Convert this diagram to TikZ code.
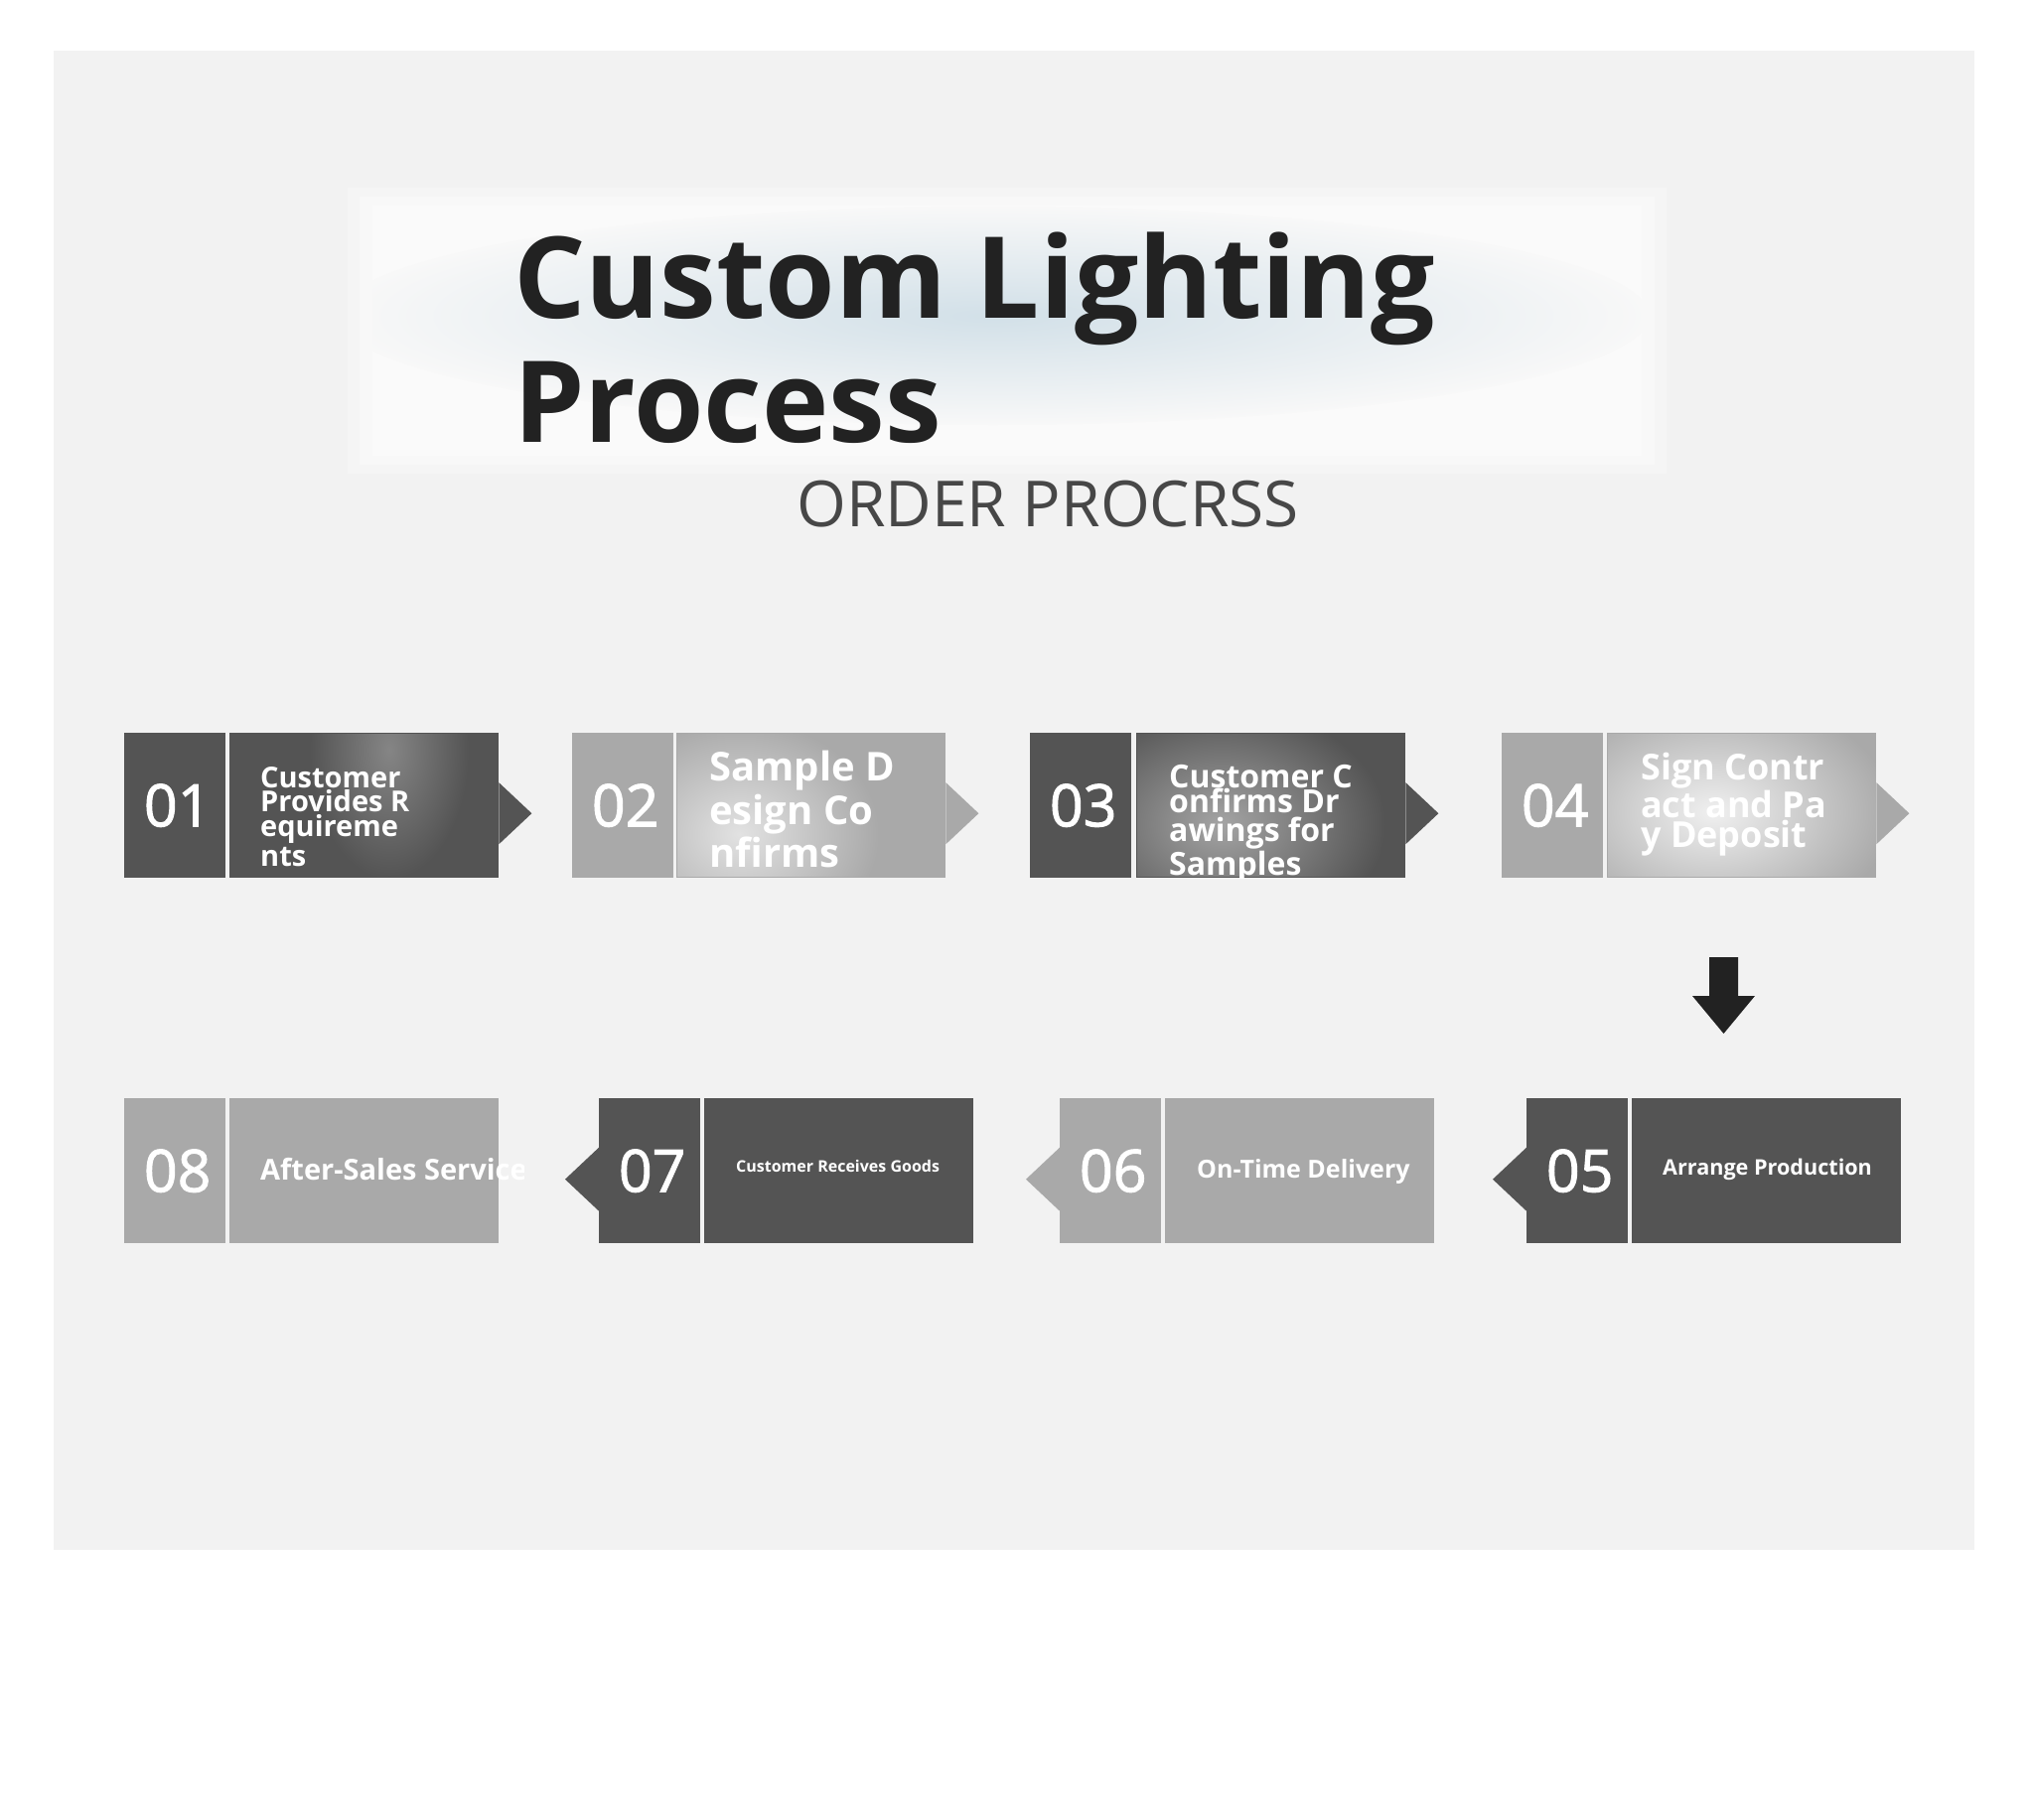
\documentclass[tikz,border=0pt]{standalone}
\usepackage{fontspec}
\setmainfont{Open Sans}
\newfontfamily\numfont[AutoFakeBold=1.6]{Open Sans}
\definecolor{panel}{HTML}{F2F2F2}
\definecolor{dk}{HTML}{545454}
\definecolor{lt}{HTML}{A9A9A9}
\definecolor{ttl}{HTML}{222222}
\definecolor{subc}{HTML}{474747}
\definecolor{glowbg}{HTML}{F8F8F8}
\definecolor{glowblue}{HTML}{D2E0E8}
\definecolor{hlA}{HTML}{858585}
\definecolor{hlB}{HTML}{E2E2E2}
\definecolor{hlC}{HTML}{A4A4A4}
\definecolor{hlD}{HTML}{F0F0F0}
\definecolor{arrc}{HTML}{222222}
\begin{document}
\begin{tikzpicture}[x=1pt,y=-1pt,
  numbox/.style={minimum width=102pt, minimum height=146pt, inner sep=0pt, anchor=north west,
    text=white, font=\fontsize{59}{59}\numfont\bfseries, execute at begin node={\hspace{5pt}}},
  txtbox/.style={minimum width=271pt, minimum height=146pt, inner sep=0pt, anchor=north west},
  lbl/.style={text=white, anchor=base west, inner sep=0pt}]
\useasboundingbox (0,0) rectangle (2048,1833);
\fill[white] (0,0) rectangle (2048,1833);
\fill[panel] (54,51) rectangle (1988,1561);

% title glow
\fill[white, opacity=0.25] (350,189) rectangle (1678,477);
\fill[white, opacity=0.3] (362,198) rectangle (1666,468);
\fill[white, opacity=0.35] (375,207) rectangle (1653,459);
\begin{scope}
  \clip (375,207) rectangle (1653,459);
  \shade[inner color=glowblue, outer color=glowbg] (1000,318) ellipse [x radius=660, y radius=110];
\end{scope}

% title
\node[anchor=base west, inner sep=0pt, text=ttl, font=\fontsize{114}{114}\selectfont\bfseries] (title1) at (517,320) {Custom Lighting};
\node[anchor=base west, inner sep=0pt, text=ttl, font=\fontsize{114}{114}\selectfont\bfseries] (title2) at (517,445) {Process};
\node[anchor=base west, inner sep=0pt, text=subc, font=\fontsize{64}{64}\selectfont] (subtitle) at (802,530) {ORDER PROCRSS};

% ---------- row 1 ----------
% 01
\node[numbox, fill=dk] (n1) at (125,738) {01};
\node[txtbox, fill=dk] (b1) at (231,738) {};
\begin{scope}
  \clip ([xshift=1pt,yshift=1.5pt]b1.south west) rectangle ([xshift=-1pt,yshift=-1.5pt]b1.north east);
  \shade[inner color=hlA, outer color=dk] (392,755) ellipse [x radius=80, y radius=130];
\end{scope}
\fill[dk] ([yshift=23pt]b1.east) -- ([xshift=33pt,yshift=-8pt]b1.east) -- ([yshift=-39pt]b1.east) -- cycle;
\begin{scope}[font=\fontsize{29}{29}\selectfont\bfseries]
\node[lbl] (t1a) at (262,793) {Customer};
\node[lbl] (t1b) at (262,817) {Provides R};
\node[lbl] (t1c) at (262,842) {equireme};
\node[lbl] (t1d) at (262,872) {nts};
\end{scope}

% 02
\node[numbox, fill=lt] (n2) at (576,738) {02};
\node[txtbox, fill=lt] (b2) at (681,738) {};
\begin{scope}
  \clip ([xshift=1pt,yshift=1.5pt]b2.south west) rectangle ([xshift=-1pt,yshift=-1.5pt]b2.north east);
  \shade[inner color=hlB, outer color=lt] (745,840) ellipse [x radius=140, y radius=115];
\end{scope}
\fill[lt] ([yshift=23pt]b2.east) -- ([xshift=33pt,yshift=-8pt]b2.east) -- ([yshift=-39pt]b2.east) -- cycle;
\begin{scope}[font=\fontsize{40}{40}\selectfont\bfseries]
\node[lbl] (t2a) at (714,786) {Sample D};
\node[lbl] (t2b) at (714,830) {esign Co};
\node[lbl] (t2c) at (714,873) {nfirms};
\end{scope}

% 03
\node[numbox, fill=dk] (n3) at (1037,738) {03};
\node[txtbox, fill=dk] (b3) at (1144,738) {};
\begin{scope}
  \clip ([xshift=1pt,yshift=1.5pt]b3.south west) rectangle ([xshift=-1pt,yshift=-1.5pt]b3.north east);
  \shade[inner color=hlC, outer color=dk] (1230,830) ellipse [x radius=165, y radius=120];
\end{scope}
\fill[dk] ([yshift=23pt]b3.east) -- ([xshift=33pt,yshift=-8pt]b3.east) -- ([yshift=-39pt]b3.east) -- cycle;
\begin{scope}
\clip (1144,738) rectangle (1415,884);
\begin{scope}[font=\fontsize{32}{32}\selectfont\bfseries]
\node[lbl] (t3a) at (1177,793) {Customer C};
\node[lbl] (t3b) at (1177,818) {onfirms Dr};
\node[lbl] (t3c) at (1177,847) {awings for};
\node[lbl] (t3d) at (1177,881) {Samples};
\end{scope}
\end{scope}

% 04
\node[numbox, fill=lt] (n4) at (1512,738) {04};
\node[txtbox, fill=lt] (b4) at (1618,738) {};
\begin{scope}
  \clip ([xshift=1pt,yshift=1.5pt]b4.south west) rectangle ([xshift=-1pt,yshift=-1.5pt]b4.north east);
  \shade[inner color=hlD, outer color=lt] (1725,818) ellipse [x radius=180, y radius=120];
\end{scope}
\fill[lt] ([yshift=23pt]b4.east) -- ([xshift=33pt,yshift=-8pt]b4.east) -- ([yshift=-39pt]b4.east) -- cycle;
\begin{scope}[font=\fontsize{36}{36}\selectfont\bfseries]
\node[lbl] (t4a) at (1652,785) {Sign Contr};
\node[lbl] (t4b) at (1652,823) {act and Pa};
\node[lbl] (t4c) at (1652,853) {y Deposit};
\end{scope}

% down arrow
\coordinate (da) at (1735.5,964);
\fill[arrc] ([xshift=-14.5pt]da) -- ([xshift=14.5pt]da) -- ([xshift=14.5pt,yshift=-39pt]da)
  -- ([xshift=31.5pt,yshift=-39pt]da) -- ([yshift=-77pt]da) -- ([xshift=-31.5pt,yshift=-39pt]da)
  -- ([xshift=-14.5pt,yshift=-39pt]da) -- cycle;

% ---------- row 2 ----------
% 08
\node[numbox, fill=lt] (n8) at (125,1106) {08};
\node[txtbox, fill=lt] (b8) at (231,1106) {};
\begin{scope}
\clip (231,1100) rectangle (527,1260);
\node[lbl, font=\fontsize{29}{29}\selectfont\bfseries] (t8) at (262,1188) {After-Sales Service};
\end{scope}

% 07
\node[numbox, fill=dk] (n7) at (603,1106) {07};
\node[txtbox, fill=dk] (b7) at (709,1106) {};
\fill[dk] ([yshift=23.5pt]n7.west) -- ([xshift=-34pt,yshift=-8.5pt]n7.west) -- ([yshift=-40.5pt]n7.west) -- cycle;
\node[lbl, font=\fontsize{16}{16}\selectfont\bfseries] (t7) at (741,1180) {Customer Receives Goods};

% 06
\node[numbox, fill=lt] (n6) at (1067,1106) {06};
\node[txtbox, fill=lt] (b6) at (1173,1106) {};
\fill[lt] ([yshift=23.5pt]n6.west) -- ([xshift=-34pt,yshift=-8.5pt]n6.west) -- ([yshift=-40.5pt]n6.west) -- cycle;
\node[lbl, font=\fontsize{25}{25}\selectfont\bfseries] (t6) at (1205,1186) {On-Time Delivery};

% 05
\node[numbox, fill=dk] (n5) at (1537,1106) {05};
\node[txtbox, fill=dk] (b5) at (1643,1106) {};
\fill[dk] ([yshift=23.5pt]n5.west) -- ([xshift=-34pt,yshift=-8.5pt]n5.west) -- ([yshift=-40.5pt]n5.west) -- cycle;
\node[lbl, font=\fontsize{21.6}{21.6}\selectfont\bfseries] (t5) at (1674,1183) {Arrange Production};
\end{tikzpicture}
\end{document}
